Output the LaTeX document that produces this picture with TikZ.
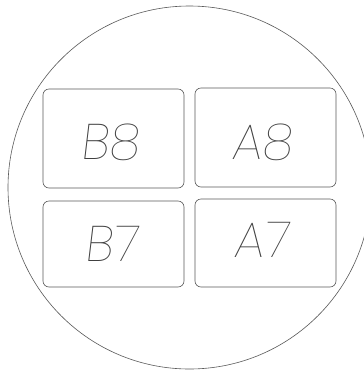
\documentclass[tikz,border=0pt]{standalone}
\usepackage{fontspec}
\newfontfamily\lblfont{Poppins}[UprightFont=*-Thin,FakeSlant=0.12]
\begin{document}
\begin{tikzpicture}[x=1pt,y=-1pt,
  line/.style={draw=black!65,line width=0.6pt},
  cell/.style={line,rounded corners=6pt},
  lbl/.style={font=\lblfont\fontsize{50}{50}\selectfont,text=black!75,inner sep=0pt}]
\useasboundingbox (0,0) rectangle (364,373);
\fill[white] (0,0) rectangle (364,373);
\begin{scope}
\clip (0,0) rectangle (364,373);
\node[line,circle,minimum size=363pt,inner sep=0pt] (disc) at (189.5,187.5) {};
\end{scope}
\path[cell] (43,89) rectangle (184,188);
\path[cell] (195,88) rectangle (336,187);
\path[cell] (43,201) rectangle (184,287);
\path[cell] (195,199) rectangle (336,287);
\node[lbl] (b8) at (110,142) {B8};
\node[lbl] (a8) at (262,142) {A8};
\node[lbl] (b7) at (111,244) {B7};
\node[lbl] (a7) at (261,240) {A7};
\end{tikzpicture}
\end{document}
